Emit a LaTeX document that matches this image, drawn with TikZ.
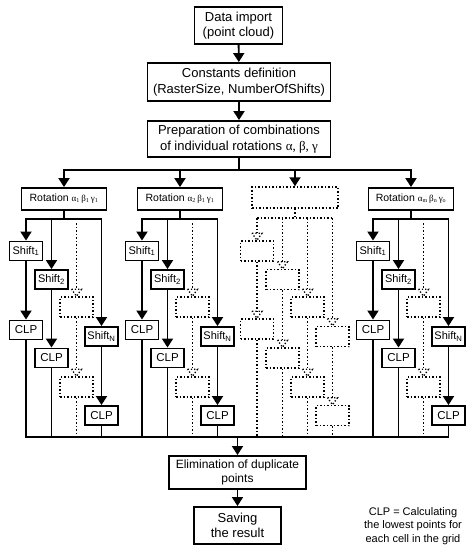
\documentclass[tikz,border=0pt]{standalone}
\usepackage{fontspec}
\setmainfont{Liberation Sans}
\newfontfamily\grk{Liberation Serif}
\usetikzlibrary{arrows.meta,calc}

\tikzset{
  ln/.style={line width=1.9pt, line cap=rect},
  arr/.style={line width=1.9pt, -{Triangle[width=11pt,length=9pt]}},
  dl/.style={dotted, line width=1.5pt},
  dtip/.style={dotted, line width=1.3pt},
  bigbox/.style={draw, line width=1.9pt, inner sep=0pt, align=center,
    font=\fontsize{13}{15.5}\selectfont},
  rbox/.style={draw, line width=1.9pt, inner sep=0pt, minimum width=85pt,
    minimum height=22pt, font=\fontsize{10.5}{12}\selectfont},
  sbox/.style={draw, line width=1.9pt, inner sep=0pt, minimum width=33pt,
    minimum height=19pt, font=\fontsize{11}{12}\selectfont},
  cbox/.style={sbox, font=\fontsize{11.5}{12}\selectfont},
  dbox/.style={draw, dotted, line width=1.5pt, inner sep=0pt,
    minimum width=33pt, minimum height=20pt},
  drbox/.style={draw, dotted, line width=1.5pt, inner sep=0pt,
    minimum width=86pt, minimum height=21pt},
  legend/.style={align=center, font=\fontsize{11}{13.5}\selectfont},
}

\newcommand\grsub[6]{{\grk\fontsize{9}{9}\selectfont #1\textsubscript{#2}\,#3\textsubscript{#4}\,#5\textsubscript{#6}}}

\newcommand\darr[2]{%
  \draw[dl] (#1) -- ($(#2.north)+(0,-7)$);
  \draw[dtip] ($(#2.north)+(-5,-7)$) -- ($(#2.north)+(5,-7)$) -- (#2.north) -- cycle;}

\newcommand\solidcol[3]{%
  \begin{scope}[xshift=#2pt]
    \node[rbox] (#1rot) at (64,199) {Rotation #3};
    \node[sbox] (#1s1) at (26,251) {Shift\textsubscript{1}};
    \node[sbox] (#1s2) at (51.5,279.5) {Shift\textsubscript{2}};
    \node[dbox] (#1d1) at (76.5,307) {};
    \node[cbox] (#1c1) at (26,330) {CLP};
    \node[sbox] (#1sN) at (101.5,336.5) {Shift\textsubscript{N}};
    \node[cbox] (#1c2) at (51.5,358) {CLP};
    \node[dbox] (#1d2) at (76.5,387) {};
    \node[cbox] (#1c3) at (101.5,415.5) {CLP};
    \coordinate (#1j) at (64,219);
    \coordinate (#1d0) at (76.5,223);
  \end{scope}
  \draw[ln] (#1rot) -- (#1j);
  \draw[ln] (#1s1 |- #1j) -- (#1sN |- #1j);
  \draw[arr] (#1s1 |- #1j) -- (#1s1);
  \draw[arr] (#1s2 |- #1j) -- (#1s2);
  \draw[arr] (#1sN |- #1j) -- (#1sN);
  \draw[arr] (#1s1) -- (#1c1);
  \draw[arr] (#1s2) -- (#1c2);
  \draw[arr] (#1sN) -- (#1c3);
  \darr{#1d0}{#1d1}
  \darr{#1d1}{#1d2}
  \draw[dl] (#1d2) -- (#1d2 |- bot);
  \draw[ln] (#1c1) -- (#1c1 |- bot);
  \draw[ln] (#1c2) -- (#1c2 |- bot);
  \draw[ln] (#1c3) -- (#1c3 |- bot);
}

\newcommand\dottedcol[2]{%
  \begin{scope}[xshift=#2pt]
    \node[drbox] (#1rot) at (64,197.5) {};
    \node[dbox] (#1s1) at (26,251) {};
    \node[dbox] (#1s2) at (51.5,279.5) {};
    \node[dbox] (#1d1) at (76.5,307) {};
    \node[dbox] (#1c1) at (26,329) {};
    \node[dbox] (#1sN) at (101.5,336.5) {};
    \node[dbox] (#1c2) at (51.5,358) {};
    \node[dbox] (#1d2) at (76.5,387) {};
    \node[dbox] (#1c3) at (101.5,415.5) {};
    \coordinate (#1j) at (64,218);
  \end{scope}
  \draw[dl] (#1rot) -- (#1j);
  \draw[dl] (#1s1 |- #1j) -- (#1sN |- #1j);
  \darr{#1s1 |- #1j}{#1s1}
  \darr{#1s2 |- #1j}{#1s2}
  \darr{#1d1 |- #1j}{#1d1}
  \darr{#1sN |- #1j}{#1sN}
  \darr{#1s1}{#1c1}
  \darr{#1s2}{#1c2}
  \darr{#1d1}{#1d2}
  \darr{#1sN}{#1c3}
  \draw[dl] (#1c1) -- (#1c1 |- bot);
  \draw[dl] (#1c2) -- (#1c2 |- bot);
  \draw[dl] (#1d2) -- (#1d2 |- bot);
  \draw[dl] (#1c3) -- (#1c3 |- bot);
}

\begin{document}
\begin{tikzpicture}[x=1pt,y=-1pt]
  \useasboundingbox (0,0) rectangle (472,550);

  \node[bigbox, minimum width=88pt, minimum height=37pt] (data) at (238.5,25.5)
    {Data import\\(point cloud)};
  \node[bigbox, minimum width=183pt, minimum height=38pt] (const) at (239,82)
    {Constants definition\\(RasterSize, NumberOfShifts)};
  \node[bigbox, minimum width=183pt, minimum height=36pt] (prep) at (239,139)
    {Preparation of combinations\\of individual rotations {\grk α, β, γ}};

  \coordinate (topbr) at (239,170);
  \coordinate (bot) at (0,437);

  \solidcol{a}{0}{\grsub{α}{1}{β}{1}{γ}{1}}
  \solidcol{b}{116}{\grsub{α}{2}{β}{1}{γ}{1}}
  \dottedcol{c}{231}
  \solidcol{m}{347}{\grsub{α}{m}{β}{n}{γ}{o}}

  \node[bigbox, font=\fontsize{12}{14}\selectfont, minimum width=137pt,
    minimum height=33pt] (elim) at (237.5,472.5)
    {Elimination of duplicate\\points};
  \node[bigbox, minimum width=87pt, minimum height=37pt] (save) at (237.5,525.5)
    {Saving\\the result};
  \node[legend] (leg) at (413,526)
    {CLP = Calculating\\the lowest points for\\each cell in the grid};

  \draw[arr] (data) -- (const);
  \draw[arr] (const) -- (prep);
  \draw[ln] (prep) -- (topbr);
  \draw[ln] (arot |- topbr) -- (mrot |- topbr);
  \draw[arr] (arot |- topbr) -- (arot);
  \draw[arr] (brot |- topbr) -- (brot);
  \draw[arr] (crot |- topbr) -- (crot);
  \draw[arr] (mrot |- topbr) -- (mrot);

  \draw[ln] (ac1 |- bot) -- (mc3 |- bot);
  \draw[arr] (elim |- bot) -- (elim);
  \draw[arr] (elim) -- (save);
\end{tikzpicture}
\end{document}
